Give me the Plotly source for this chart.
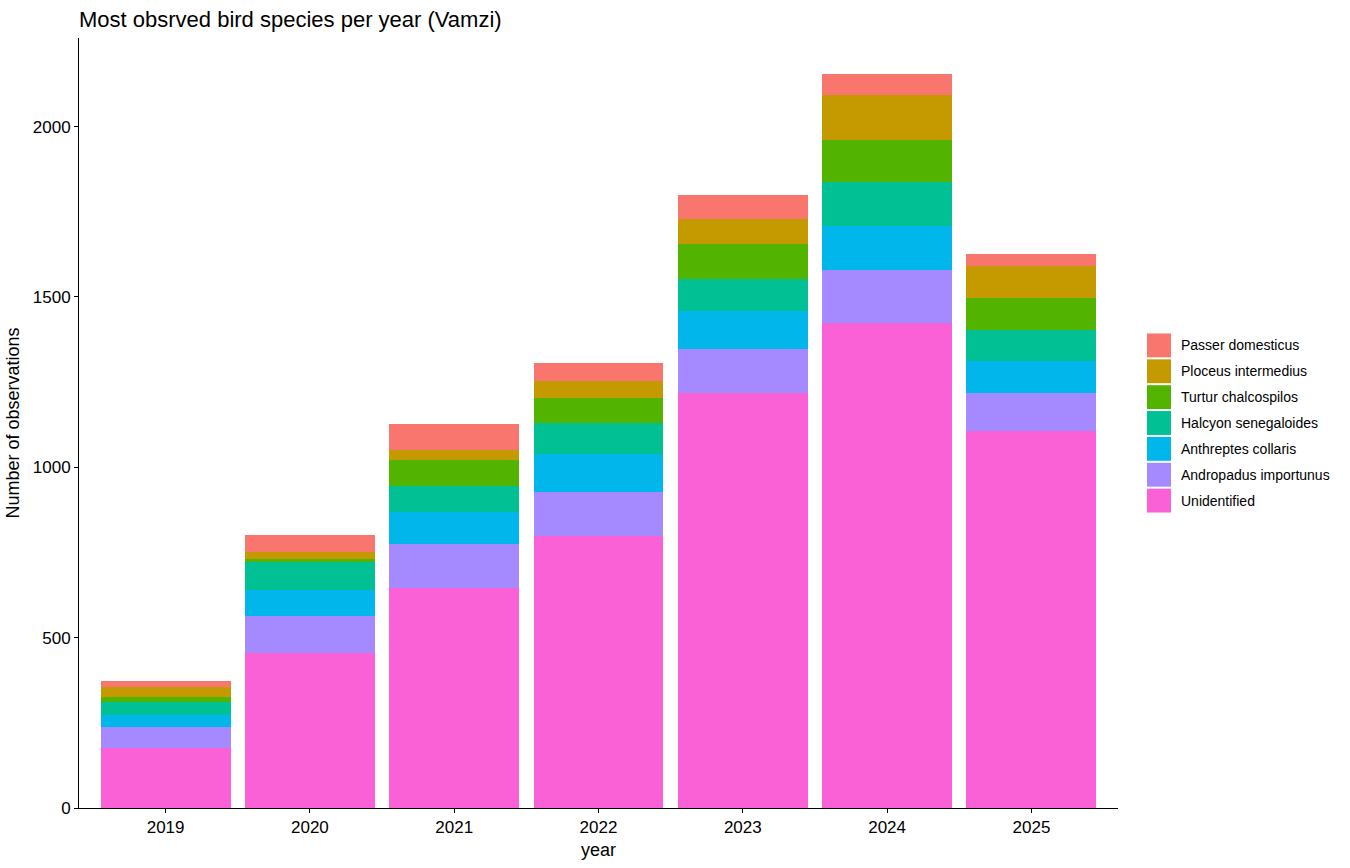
import plotly.graph_objects as go

# Jahre und Arten (Reihenfolge von unten nach oben im Stapel)
years = ["2019", "2020", "2021", "2022", "2023", "2024", "2025"]

species = [
    "Unidentified",
    "Andropadus importunus",
    "Anthreptes collaris",
    "Halcyon senegaloides",
    "Turtur chalcospilos",
    "Ploceus intermedius",
    "Passer domesticus",
]

unidentified = [177, 454, 647, 799, 1219, 1424, 1108]
andropadus = [61, 111, 127, 129, 128, 155, 111]
anthreptes = [35, 76, 94, 111, 112, 128, 94]
halcyon = [39, 80, 78, 92, 94, 129, 89]
turtur = [14, 11, 76, 71, 102, 124, 94]
ploceus = [29, 18, 29, 50, 73, 132, 94]
passer = [18, 52, 76, 53, 70, 61, 35]

values = [unidentified, andropadus, anthreptes, halcyon, turtur, ploceus, passer]

colors = ["#FB61D7", "#A58AFF", "#00B6EB", "#00C094", "#53B400", "#C49A00", "#F8766D"]

FONT = "Liberation Sans, Arial, sans-serif"

fig = go.Figure()

for name, vals, col in zip(species, values, colors):
    fig.add_trace(
        go.Bar(x=years, y=vals, name=name, marker=dict(color=col, line=dict(width=0)),
               showlegend=False)
    )

# Legende wie bei ggplot (oben Passer, unten Unidentified)
x0, x1 = 1147, 1171
top = 335
step = 26
pw, ph = 1350, 868
l, r, t, b = 79, 232, 38, 56
plot_w = pw - l - r
plot_h = ph - t - b

def px_x(px):
    return (px - l) / plot_w

def px_y(py):
    return (ph - b - py) / plot_h

for i, (name, col) in enumerate(zip(species[::-1], colors[::-1])):
    y_top = top + i * step
    fig.add_shape(type="rect", xref="paper", yref="paper",
                  x0=px_x(x0), x1=px_x(x1), y0=px_y(y_top + 24), y1=px_y(y_top),
                  fillcolor=col, line=dict(width=0))
    fig.add_annotation(text=name, xref="paper", yref="paper",
                       x=px_x(1179), y=px_y(y_top + 12), xanchor="left", yanchor="middle",
                       showarrow=False, font=dict(family=FONT, size=14, color="black"))

fig.update_layout(
    barmode="stack",
    bargap=0.1,
    width=pw,
    height=ph,
    margin=dict(l=l, r=r, t=t, b=b),
    plot_bgcolor="white",
    paper_bgcolor="white",
    font=dict(family=FONT, color="black"),
    title=dict(text="Most obsrved bird species per year (Vamzi)", x=79 / pw,
               xanchor="left", y=1 - 19 / ph, yanchor="middle", yref="container", xref="container",
               font=dict(family=FONT, size=22, color="black")),
)

fig.update_xaxes(
    title=dict(text="year", font=dict(size=18, family=FONT), standoff=6),
    range=[-0.6, 6.6],
    showline=True, linecolor="black", linewidth=1,
    ticks="outside", ticklen=4, tickcolor="black",
    tickfont=dict(size=17, family=FONT, color="black"),
    showgrid=False, zeroline=False,
)

fig.update_yaxes(
    title=dict(text="Number of observations", font=dict(size=18, family=FONT), standoff=8),
    range=[0, 2260],
    tickvals=[0, 500, 1000, 1500, 2000],
    showline=True, linecolor="black", linewidth=1,
    ticks="outside", ticklen=4, tickcolor="black",
    tickfont=dict(size=17, family=FONT, color="black"),
    showgrid=False, zeroline=False,
)

fig.write_html("out.html", config={"displayModeBar": False},
               post_script="document.body.style.margin='0';")
